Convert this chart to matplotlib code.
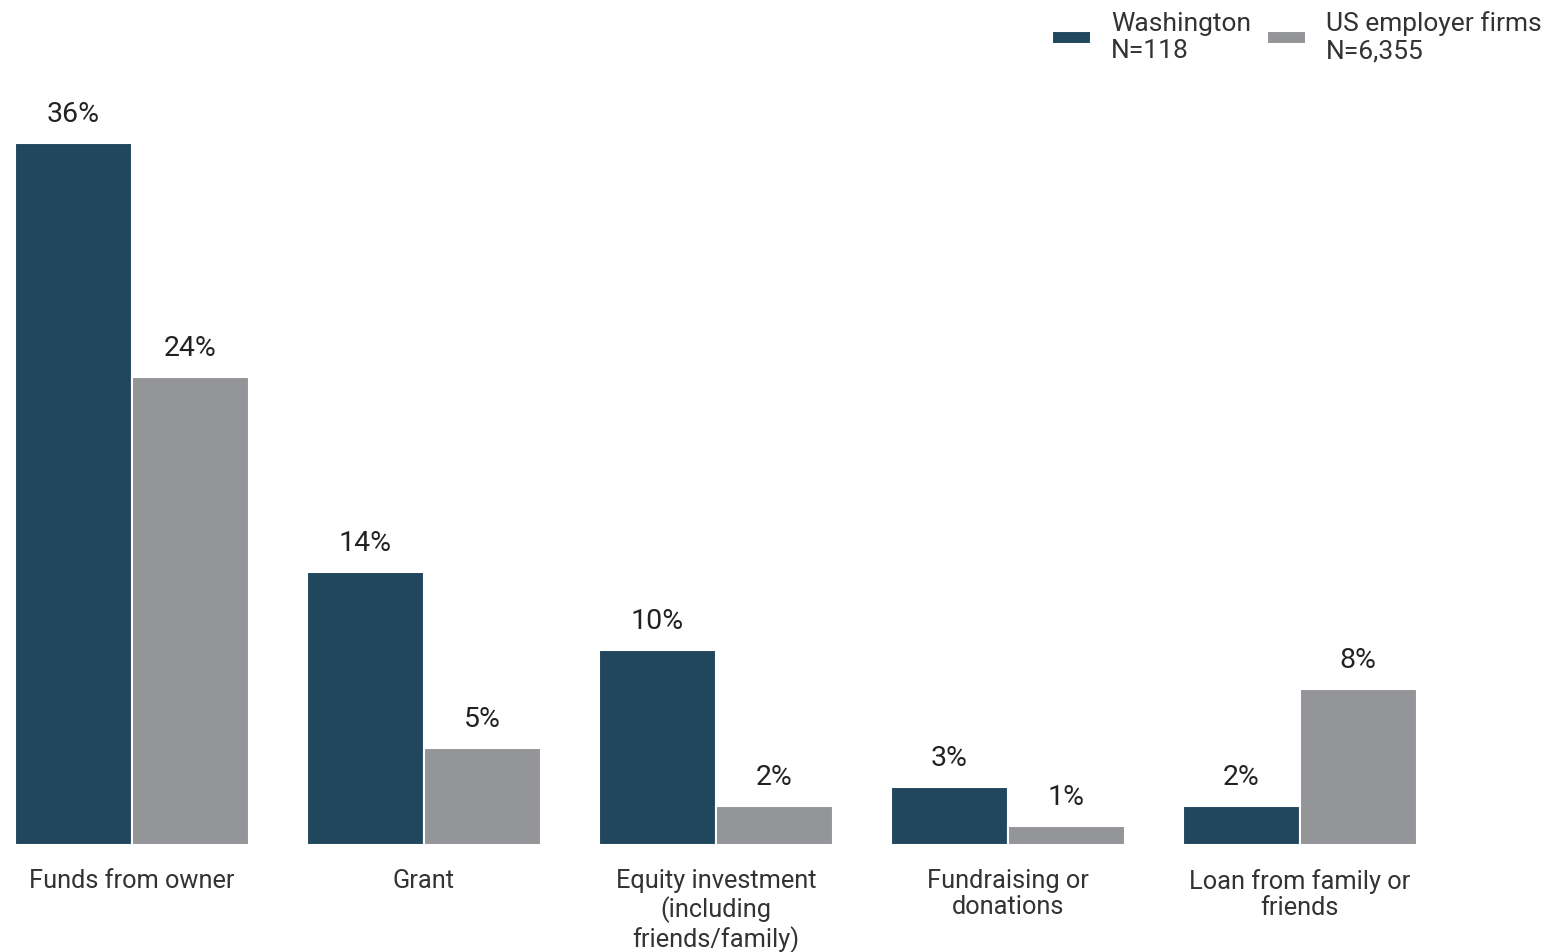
#Importing Libraries
import matplotlib.pyplot as plt
import numpy as np

plt.rcParams['font.family'] = ['Roboto', 'DejaVu Sans']

#Chart data
categories = ['Funds from owner', 'Grant', 'Equity investment\n(including\nfriends/family)',
              'Fundraising or\ndonations', 'Loan from family or\nfriends']
washington = [36, 14, 10, 3, 2]
us_firms = [24, 5, 2, 1, 8]
series_names = ['Washington\nN=118', 'US employer firms\nN=6,355']

navy = '#20475e'
gray = '#939598'
text_color = '#333333'

fig = plt.figure(figsize=(15.5, 9.52), dpi=100)
ax = fig.add_axes([15 / 1550, 107 / 952, 1530 / 1550, 780 / 952])

x = np.arange(len(categories))
w = 0.4
b1 = ax.bar(x - w / 2, washington, w, color=navy, edgecolor='white', linewidth=1.5, label=series_names[0])
b2 = ax.bar(x + w / 2, us_firms, w, color=gray, edgecolor='white', linewidth=1.5, label=series_names[1])

#Value labels above bars
for bars, vals in [(b1, washington), (b2, us_firms)]:
    for bar, v in zip(bars, vals):
        ax.annotate(f'{v}%', (bar.get_x() + bar.get_width() / 2, v), xytext=(0, 20.5),
                    textcoords='offset points', ha='center', va='center',
                    fontsize=20.5, color='#222222')

ax.set_xlim(-0.4, -0.4 + 1530 / 292)
ax.set_ylim(0, 40)
ax.set_xticks(x)
ax.set_xticklabels(categories, fontsize=18.3, color=text_color, linespacing=1.15)
ax.tick_params(axis='x', length=0, pad=17)
ax.set_yticks([])
for s in ax.spines.values():
    s.set_visible(False)

#Legend top right
fig.legend(loc='upper right', bbox_to_anchor=(1.0015, 0.9995), ncol=2, frameon=False,
           fontsize=19, labelcolor=text_color, handlelength=1.5, handleheight=0.4,
           handletextpad=0.75, columnspacing=0.6, borderaxespad=0.0, labelspacing=0.0)

plt.savefig('out.png', dpi=100)
